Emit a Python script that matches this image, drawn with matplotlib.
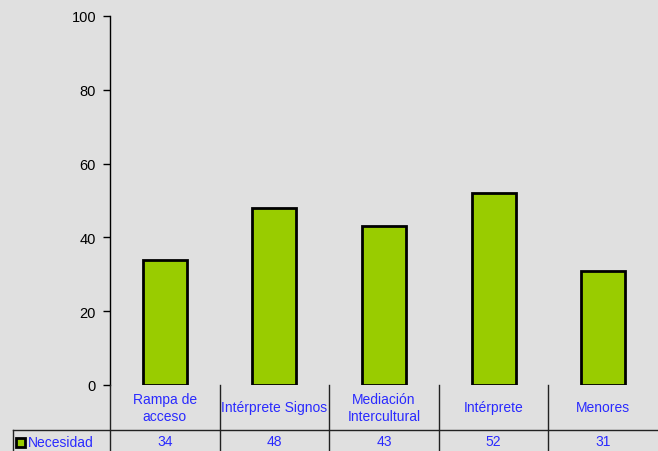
import matplotlib.pyplot as plt
from matplotlib.lines import Line2D
from matplotlib.patches import Rectangle

categories = ['Rampa de\nacceso', 'Intérprete Signos', 'Mediación\nIntercultural', 'Intérprete', 'Menores']
values = [34, 48, 43, 52, 31]
series_name = 'Necesidad'
yticks = [0, 20, 40, 60, 80, 100]

W, H = 658, 452
bg = '#e0e0e0'
green = '#99cc00'
blue = '#2a2aff'

plt.rcParams['font.family'] = ['Liberation Sans', 'DejaVu Sans']

fig = plt.figure(figsize=(W / 100, H / 100), dpi=100, facecolor=bg)
left, right, bottom, top = 110, 658, 386, 17
ax = fig.add_axes([left / W, 1 - bottom / H, (right - left) / W, (bottom - top) / H])
ax.set_facecolor(bg)

x = list(range(len(categories)))
ax.bar(x, values, width=0.4, color=green, edgecolor='black', linewidth=2)
ax.set_xlim(-0.5, len(categories) - 0.5)
ax.set_ylim(0, 100)
ax.set_yticks(yticks)
ax.tick_params(axis='y', labelsize=10.5, direction='out', length=5, width=1, pad=5)
ax.set_xticks([])
for s in ['top', 'right', 'bottom']:
    ax.spines[s].set_visible(False)
ax.spines['left'].set_linewidth(1)

# data table below the axes
def fx(px):
    return px / W

def fy(py):
    return 1 - py / H

col_w = (right - left) / len(categories)
lines = [
    Line2D([fx(13), fx(658)], [fy(431), fy(431)]),
    Line2D([fx(13), fx(13)], [fy(431), fy(452)]),
    Line2D([fx(left), fx(left)], [fy(386), fy(452)]),
]
for i in range(1, len(categories)):
    xp = left + i * col_w
    lines.append(Line2D([fx(xp), fx(xp)], [fy(386), fy(452)]))
for ln in lines:
    ln.set_color('#222222')
    ln.set_linewidth(1)
    fig.add_artist(ln)

for i, (c, v) in enumerate(zip(categories, values)):
    xc = left + (i + 0.5) * col_w
    fig.text(fx(xc), fy(408.5), c, ha='center', va='center', color=blue,
             fontsize=10, linespacing=1.3)
    fig.text(fx(xc), fy(442), str(v), ha='center', va='center', color=blue, fontsize=10)

fig.add_artist(Rectangle((fx(16), fy(448)), fx(9), 9 / H, facecolor=green,
                         edgecolor='black', linewidth=2))
fig.text(fx(28), fy(443), series_name, ha='left', va='center', color=blue, fontsize=10)

fig.savefig('out.png', dpi=100, facecolor=bg)
